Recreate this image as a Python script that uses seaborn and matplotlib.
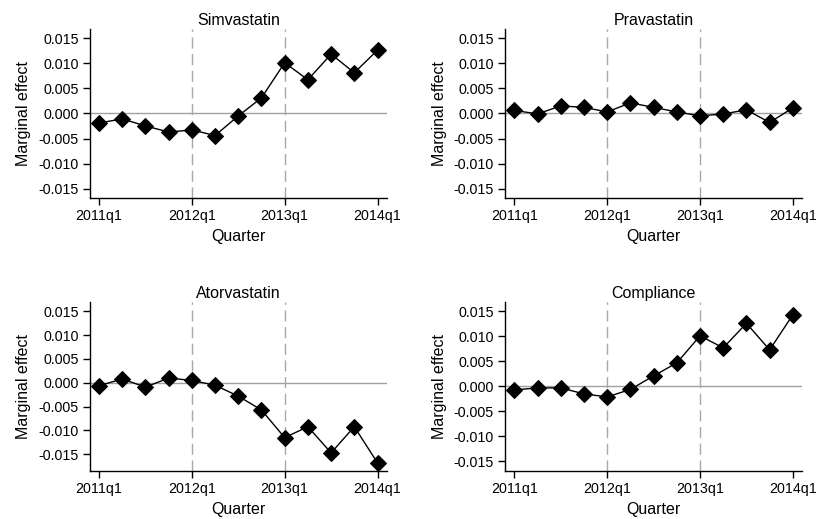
import numpy as np
import pandas as pd
import seaborn as sns
import matplotlib.pyplot as plt

quarters = ["2011q1", "2011q2", "2011q3", "2011q4",
            "2012q1", "2012q2", "2012q3", "2012q4",
            "2013q1", "2013q2", "2013q3", "2013q4", "2014q1"]
tick_labels = ["2011q1", "2012q1", "2013q1", "2014q1"]

simvastatin = [-0.0019, -0.0011, -0.0025, -0.0037, -0.0033, -0.0044,
               -0.0005, 0.0031, 0.0101, 0.0067, 0.0118, 0.0081, 0.0126]
pravastatin = [0.0006, -0.0001, 0.0015, 0.0012, 0.0003, 0.0021,
               0.0012, 0.0003, -0.0005, -0.0001, 0.0007, -0.0018, 0.0011]
atorvastatin = [-0.0006, 0.0008, -0.0009, 0.0010, 0.0005, -0.0005,
                -0.0028, -0.0057, -0.0115, -0.0092, -0.0147, -0.0092, -0.0168]
compliance = [-0.0007, -0.0003, -0.0003, -0.0015, -0.0021, -0.0006,
              0.0021, 0.0047, 0.0101, 0.0077, 0.0126, 0.0073, 0.0143]

panels = {"Simvastatin": simvastatin, "Pravastatin": pravastatin,
          "Atorvastatin": atorvastatin, "Compliance": compliance}
y_ticks = [0.015, 0.010, 0.005, 0.0, -0.005, -0.010, -0.015]

sns.set_style("ticks")
plt.rcParams['font.family'] = ['Liberation Sans', 'DejaVu Sans']
plt.rcParams['text.color'] = 'black'
plt.rcParams['axes.labelcolor'] = 'black'

fig = plt.figure(figsize=(8.16, 5.19), dpi=100)
boxes = [(0.110, 0.618), (0.619, 0.618), (0.110, 0.0925), (0.619, 0.0925)]
# atorvastatin goes lower, so its axis runs a bit further down
ylims = [(-0.0169, 0.0168), (-0.0169, 0.0168), (-0.0185, 0.0170), (-0.0169, 0.0169)]

for (name, vals), (left, bottom), ylim in zip(panels.items(), boxes, ylims):
    ax = fig.add_axes([left, bottom, 0.364, 0.326])
    df = pd.DataFrame({"q": np.arange(len(quarters)), "effect": vals})
    ax.axhline(0, color="#a0a0a0", lw=1, zorder=1)
    for x in [quarters.index("2012q1"), quarters.index("2013q1")]:
        ax.axvline(x, color="#a8a8a8", lw=1, ls=(0, (8, 4)), zorder=1)
    sns.lineplot(data=df, x="q", y="effect", ax=ax, color="black", lw=1,
                 marker="D", markersize=8.5, markeredgecolor="black", zorder=3)
    ax.set_xlim(-0.4, 12.4)
    ax.set_ylim(*ylim)
    ax.set_xticks([quarters.index(t) for t in tick_labels])
    ax.set_xticklabels(tick_labels)
    ax.set_yticks(y_ticks)
    ax.set_yticklabels(["%.3f" % v for v in y_ticks])
    ax.tick_params(labelsize=10.3, length=5, width=1, colors="black", pad=3)
    ax.set_xlabel("Quarter", fontsize=11.5, labelpad=4)
    ax.set_ylabel("Marginal effect", fontsize=11.5, labelpad=5)
    ax.set_title(name, fontsize=11.5, pad=3)
    sns.despine(ax=ax)
    for s in ["left", "bottom"]:
        ax.spines[s].set_linewidth(1)
        ax.spines[s].set_color("black")

fig.savefig("out.png", dpi=100)
